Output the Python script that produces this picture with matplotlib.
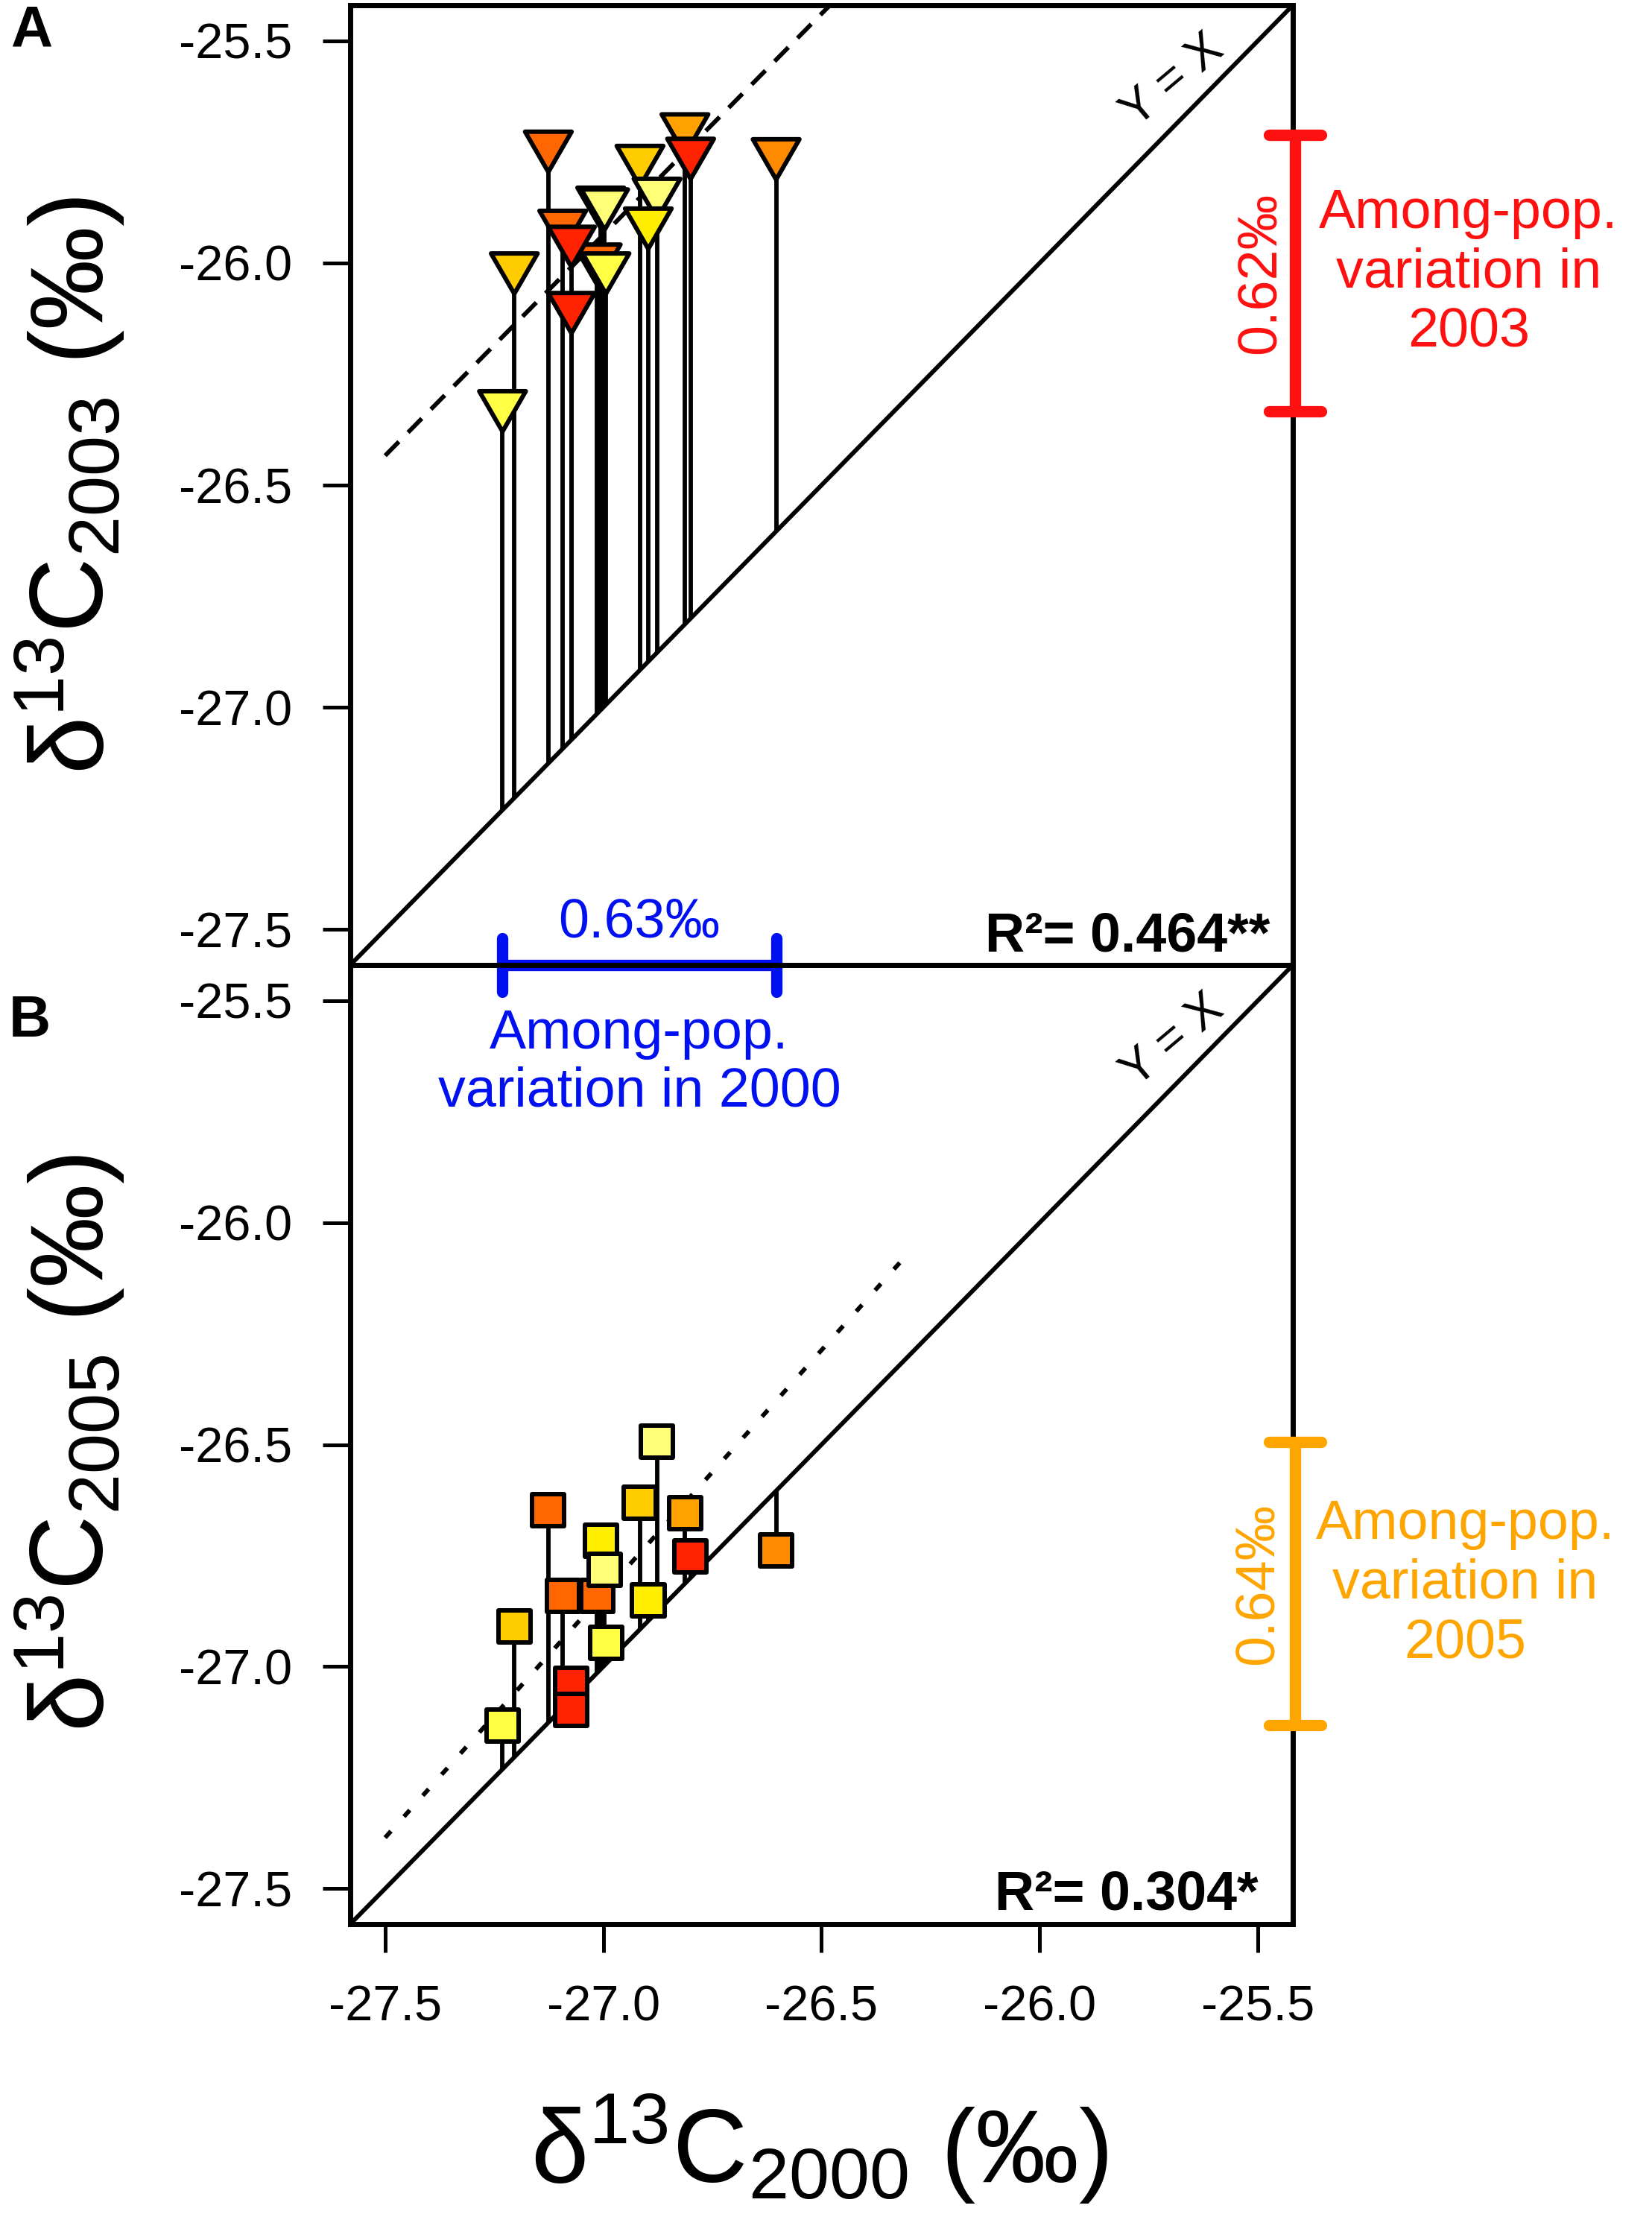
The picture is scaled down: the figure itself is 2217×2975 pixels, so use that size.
import matplotlib.pyplot as plt
import numpy as np
from matplotlib.markers import MarkerStyle
from matplotlib.path import Path

plt.rcParams['font.family'] = ['Liberation Sans', 'DejaVu Sans']
plt.rcParams['mathtext.fontset'] = 'custom'
plt.rcParams['mathtext.rm'] = 'Liberation Sans'
plt.rcParams['mathtext.default'] = 'regular'

# one value per population (drawing order)
d13c_2000 = [-27.126, -26.813, -26.800, -26.604, -26.916, -26.877, -27.006, -27.014,
             -26.997, -27.093, -27.073, -26.897, -26.994, -27.204, -27.073, -27.231]
d13c_2003 = [-25.750, -25.711, -25.766, -25.767, -25.782, -25.856, -25.876, -26.004,
             -25.880, -25.928, -25.964, -25.923, -26.024, -26.024, -26.113, -26.334]
d13c_2005 = [-26.648, -26.654, -26.751, -26.738, -26.631, -26.494, -26.717, -26.841,
             -26.782, -26.841, -27.038, -26.850, -26.946, -26.909, -27.098, -27.132]
pop_colors = ['#FF6600', '#FFA200', '#FF2200', '#FF8A00', '#FFCC00', '#FFFF77', '#FFEE00', '#FF6600',
              '#FFFF77', '#FF6600', '#FF2200', '#FFEE00', '#FFFF44', '#FFCC00', '#FF2200', '#FFFF44']

ax_lim = (-27.58, -25.42)
ticks = [-27.5, -27.0, -26.5, -26.0, -25.5]
tick_labels = ['-27.5', '-27.0', '-26.5', '-26.0', '-25.5']
fit_x = np.array([-27.5, -26.3])
r2_labels = ['R²= 0.464**', 'R²= 0.304*']

W, H = 2217, 2975
fig = plt.figure(figsize=(W / 100, H / 100), dpi=100)
axA = fig.add_axes([470 / W, 1 - 1295 / H, 1265 / W, 1288 / H])
axB = fig.add_axes([470 / W, 1 - 2582 / H, 1265 / W, 1287 / H])

tri = Path([(-1, 0.866), (1, 0.866), (0, -0.866), (-1, 0.866)], closed=True)
tri_marker = MarkerStyle(tri, joinstyle='miter')
sq_marker = MarkerStyle('s', joinstyle='miter')

x = np.array(d13c_2000)


def rma_line(xv, yv):
    # reduced major axis
    r = np.corrcoef(xv, yv)[0, 1]
    slope = np.sign(r) * np.std(yv) / np.std(xv)
    return slope, np.mean(yv) - slope * np.mean(xv)


def range_bar(ax, lo, hi, at, vertical, color, cap=0.06):
    kw = dict(color=color, lw=11, solid_capstyle='round', clip_on=False, zorder=6)
    if vertical:
        ax.plot([at, at], [lo, hi], **kw)
        for v in (lo, hi):
            ax.plot([at - cap, at + cap], [v, v], **kw)
    else:
        ax.plot([lo, hi], [at, at], **kw)
        for v in (lo, hi):
            ax.plot([v, v], [at - cap, at + cap], **kw)


def panel(ax, yv, marker, ms, dash, r2, r2_pos):
    yv = np.array(yv)
    ax.set_facecolor('none')
    ax.set_xlim(ax_lim)
    ax.set_ylim(ax_lim)
    ax.plot(ax_lim, ax_lim, color='black', lw=4.2, zorder=2)
    slope, icpt = rma_line(x, yv)
    ax.plot(fit_x, icpt + slope * fit_x, color='black', lw=4.2, linestyle=(0, dash), zorder=2)
    ax.vlines(x, yv, x, colors='black', lw=4.2, zorder=3)
    ax.scatter(x, yv, s=ms ** 2, marker=marker, c=pop_colors, edgecolors='black',
               linewidths=4.3, zorder=4)
    ax.text(-25.695, -25.59, 'Y = X', rotation=40, ha='center', va='center', fontsize=46)
    ax.text(r2_pos[0], r2_pos[1], r2, transform=ax.transAxes, ha='right', va='baseline',
            fontsize=53, fontweight='bold')
    for s in ax.spines.values():
        s.set_linewidth(5)
    ax.set_yticks(ticks, tick_labels)
    ax.tick_params(axis='y', length=27, width=3.6, pad=29, labelsize=48)
    return yv


yA = panel(axA, d13c_2003, tri_marker, 45, (4.5, 3), r2_labels[0], (0.9755, 0.014))
yB = panel(axB, d13c_2005, sq_marker, 31, (2, 4.5), r2_labels[1], (0.9636, 0.0148))

axA.set_xticks([])
axB.set_xticks(ticks, tick_labels)
axB.tick_params(axis='x', length=27, width=3.6, pad=32, labelsize=48)

# among-population ranges
red, blue, orange = '#FF1010', '#0010F0', '#FFA500'
text_kw = dict(fontsize=53, ha='center', va='center', clip_on=False, zorder=7)

lo, hi = yA.min(), yA.max()
range_bar(axA, lo, hi, ax_lim[1] + 0.005, True, red)
axA.text(ax_lim[1] - 0.075, (lo + hi) / 2, f'{hi - lo:.2f}‰', rotation=90, color=red, **text_kw)
axA.text(ax_lim[1] + 0.403, (lo + hi) / 2, 'Among-pop.\nvariation in\n2003', color=red,
         linespacing=1.2, **text_kw)

lo, hi = x.min(), x.max()
range_bar(axA, lo, hi, ax_lim[0], False, blue)
axA.text((lo + hi) / 2, ax_lim[0] + 0.096, f'{hi - lo:.2f}‰', color=blue, **text_kw)
axA.text((lo + hi) / 2, ax_lim[0] - 0.22, 'Among-pop.\nvariation in 2000', color=blue,
         linespacing=1.15, **text_kw)

lo, hi = yB.min(), yB.max()
range_bar(axB, lo, hi, ax_lim[1] + 0.005, True, orange)
axB.text(ax_lim[1] - 0.08, (lo + hi) / 2, f'{hi - lo:.2f}‰', rotation=90, color=orange, **text_kw)
axB.text(ax_lim[1] + 0.395, (lo + hi) / 2, 'Among-pop.\nvariation in\n2005', color=orange,
         linespacing=1.2, **text_kw)

fig.text(93 / W, 1 - 651 / H, r'δ$^{13}$C$_{2003}$ (‰)', rotation=90, ha='center', va='center',
         fontsize=100)
fig.text(93 / W, 1 - 1936 / H, r'δ$^{13}$C$_{2005}$ (‰)', rotation=90, ha='center', va='center',
         fontsize=100)
fig.text(1100 / W, 1 - 2883 / H, r'δ$^{13}$C$_{2000}$ (‰)', ha='center', va='center', fontsize=100)
fig.text(14 / W, 1 - 6 / H, 'A', ha='left', va='top', fontsize=56, fontweight='bold')
fig.text(12 / W, 1 - 1334 / H, 'B', ha='left', va='top', fontsize=56, fontweight='bold')

fig.savefig('out.png', dpi=100)
